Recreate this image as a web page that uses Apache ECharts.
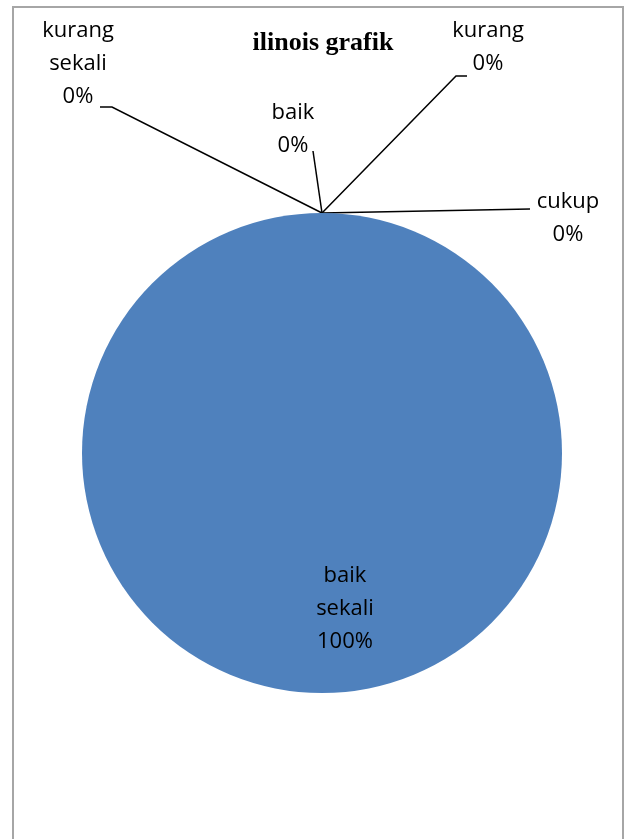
<!DOCTYPE html>
<html>
<head>
<meta charset="utf-8">
<script src="https://cdn.jsdelivr.net/npm/echarts@6/dist/echarts.min.js"></script>
<style>
html,body{margin:0;padding:0;background:#fff;width:634px;height:839px;overflow:hidden;}
#frame{position:absolute;left:12px;top:6px;width:612px;height:900px;border:2px solid #a6a6a6;box-sizing:border-box;}
#chart{position:absolute;left:0;top:0;width:634px;height:839px;}
</style>
</head>
<body>
<div id="frame"></div>
<div id="chart"></div>
<script>
const titleText = 'ilinois grafik';
const categories = ['baik sekali', 'baik', 'cukup', 'kurang', 'kurang sekali'];
const values = [100, 0, 0, 0, 0];
const sliceColor = '#4F81BD';

// label placement (layout only)
const labelPos = {
  'baik sekali':   {x: 345, y: 609, line: null},
  'baik':          {x: 293, y: 129, line: [[313, 151]]},
  'cukup':         {x: 568, y: 218, line: [[530, 209]]},
  'kurang':        {x: 488, y: 47,  line: [[456, 76], [467, 76]]},
  'kurang sekali': {x: 78,  y: 64,  line: [[112, 107], [100, 107]]}
};

const chart = echarts.init(document.getElementById('chart'), null, {renderer: 'canvas'});
const data = categories.map((c, i) => ({
  name: c,
  value: values[i],
  labelLine: {show: i === 0 ? false : true}
}));

chart.setOption({
  animation: false,
  title: {
    text: titleText,
    left: 318, top: 25, textAlign: 'center',
    textStyle: {fontFamily: 'Liberation Serif', fontWeight: 'bold', fontSize: 26, color: '#000'}
  },
  series: [{
    type: 'pie',
    center: [322, 453],
    radius: [0, 240],
    startAngle: 90,
    clockwise: true,
    avoidLabelOverlap: false,
    stillShowZeroSum: true,
    minShowLabelAngle: 0,
    itemStyle: {color: sliceColor},
    label: {
      show: true,
      position: 'outside',
      formatter: p => p.name.replace(' ', '\n') + '\n' + Math.round(p.percent) + '%',
      fontFamily: 'Open Sans',
      fontSize: 22,
      lineHeight: 33,
      color: '#000',
      align: 'center'
    },
    labelLine: {show: true, lineStyle: {color: '#000', width: 1.5}, length: 10, length2: 10},
    labelLayout: function (params) {
      const name = categories[params.dataIndex];
      const lp = labelPos[name];
      const out = {x: lp.x, y: lp.y, align: 'center', verticalAlign: 'middle'};
      if (lp.line && params.labelLinePoints) {
        out.labelLinePoints = [params.labelLinePoints[0]].concat(lp.line);
      }
      return out;
    },
    data: data
  }]
});
</script>
</body>
</html>
